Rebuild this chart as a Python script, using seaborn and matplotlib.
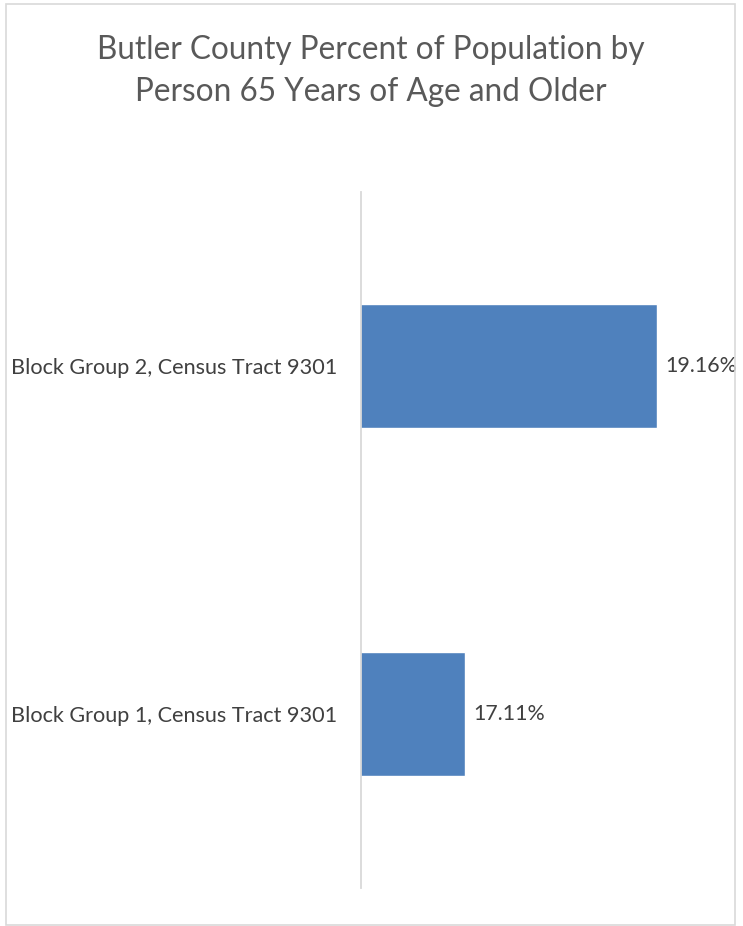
import matplotlib
matplotlib.use("Agg")
import matplotlib.pyplot as plt
import seaborn as sns
import pandas as pd
from matplotlib.patches import Rectangle

categories = ["Block Group 2, Census Tract 9301", "Block Group 1, Census Tract 9301"]
values = [19.16, 17.11]
title = "Butler County Percent of Population by\nPerson 65 Years of Age and Older"

sns.set_style("white")
plt.rcParams["font.family"] = ["Lato", "DejaVu Sans"]

W, H = 743, 926
fig = plt.figure(figsize=(W / 100, H / 100), dpi=100)

# chart border like excel
fig.patches.append(Rectangle((6 / W, 1 - 925 / H), 729 / W, 921 / H, transform=fig.transFigure,
                             fill=False, edgecolor="#d9d9d9", linewidth=1.2))

# plot area: left 361px, top 192px, bottom 888px
ax = fig.add_axes([361 / W, 1 - 888 / H, (689 - 361) / W, (888 - 192) / H])

df = pd.DataFrame({"category": categories, "value": values})
sns.barplot(data=df, x="value", y="category", color="#4f81bd", width=0.354,
            saturation=1, ax=ax)

ax.set_xlim(16, 19.5)
ax.set_ylim(1.5, -0.5)
ax.set_xlabel("")
ax.set_ylabel("")
ax.set_xticks([])
for s in ["top", "right", "bottom"]:
    ax.spines[s].set_visible(False)
ax.spines["left"].set_color("#d9d9d9")
ax.spines["left"].set_linewidth(1.3)
ax.tick_params(axis="y", length=0, pad=17, labelsize=15.6, labelcolor="#404040")

for i, v in enumerate(values):
    ax.text(v + 0.09, i, f"{v:.2f}%", va="center", ha="left", fontsize=15.4, color="#404040")

fig.text(371 / W, 1 - 71 / H, title, ha="center", va="center", fontsize=22.7,
         color="#595959", linespacing=1.5)

fig.savefig("out.png", dpi=100)
